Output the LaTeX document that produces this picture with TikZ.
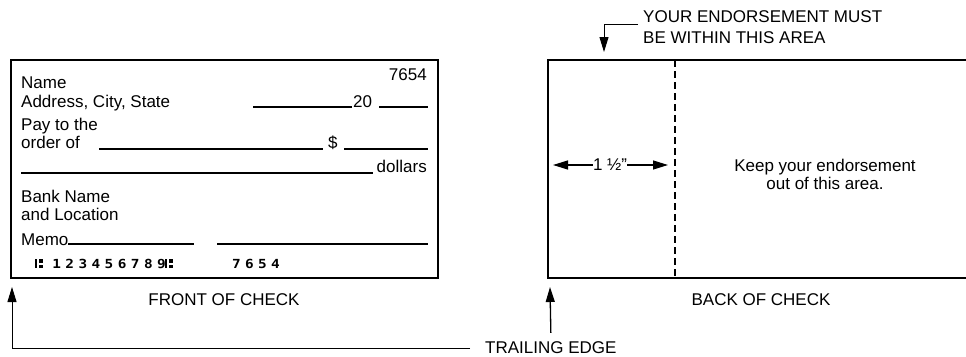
\documentclass[tikz,border=0pt]{standalone}
\usepackage{fontspec}
\setmainfont{Liberation Sans}
\newfontfamily\micrfont{DejaVu Sans Mono}
\usetikzlibrary{arrows.meta}

\begin{document}
\begin{tikzpicture}[x=1pt,y=-1pt,
txt/.style = {% all labels
    inner sep=0pt, font=\fontsize{17}{18}\selectfont,
            },
micr/.style = {inner sep=0pt, anchor=base west,
    font=\micrfont\bfseries\fontsize{12.5}{12.5}\selectfont},
frame/.style = {line width=2.2pt},
blank/.style = {line width=1.5pt},
arr/.style = {line width=1.3pt, -{Triangle[length=15pt,width=9pt]}},
                    ]
  \useasboundingbox (0,0) rectangle (966,356);

  % front of check
  \draw[frame] (11,60) rectangle (438,278);
  \node[txt,anchor=base east] (num)  at (427,80)  {7654};
  \node[txt,anchor=base west] (name) at (21,88)   {Name};
  \node[txt,anchor=base west] (addr) at (21,107)  {Address, City, State};
  \node[txt,anchor=base west] (year) at (353,107) {20};
  \node[txt,anchor=base west] (pay)  at (21,130)  {Pay to the};
  \node[txt,anchor=base west] (ord)  at (21,148)  {order of};
  \node[txt,anchor=base west] (usd)  at (328,148) {\$};
  \node[txt,anchor=base east] (dol)  at (427,172) {dollars};
  \node[txt,anchor=base west] (bank) at (21,202)  {Bank Name};
  \node[txt,anchor=base west] (loc)  at (21,220)  {and Location};
  \node[txt,anchor=base west] (memo) at (21,245)  {Memo};

  \draw[blank] (253,107) -- (352,107);
  \draw[blank] (379,107) -- (428,107);
  \draw[blank] (99,149)  -- (323,149);
  \draw[blank] (344,149) -- (428,149);
  \draw[blank] (21,173)  -- (373,173);
  \draw[blank] (68,244)  -- (194,244);
  \draw[blank] (217,244) -- (428,244);

  % micr line
  \foreach \x in {35,165} {
    \fill (\x,259) rectangle ++(2.2,9);
    \fill (\x+3.8,259) rectangle ++(4,3.5);
    \fill (\x+3.8,264.5) rectangle ++(4,3.5);
  }
  \foreach \d [count=\i] in {1,2,3,4,5,6,7,8,9}
    \node[micr] (route\i) at (39+\i*13.1,268) {\scalebox{1.15}[1]{\d}};
  \foreach \d [count=\i] in {7,6,5,4}
    \node[micr] (chk\i) at (219+\i*13,268) {\scalebox{1.15}[1]{\d}};

  \node[txt,anchor=base] (front) at (224,305) {FRONT OF CHECK};

  % back of check
  \draw[frame] (966,60) -- (548,60) -- (548,278) -- (966,278);
  \draw[line width=2pt,dash pattern=on 7pt off 4pt] (675,60) -- (675,278);

  \node[txt,anchor=base west] (must1) at (643,22) {YOUR ENDORSEMENT MUST};
  \node[txt,anchor=base west] (must2) at (643,43) {BE WITHIN THIS AREA};
  \coordinate (lead) at (638,24);
  \coordinate (zone) at (604,52);
  \draw[arr,line width=1pt] (lead) -| (zone);

  \node[txt] (dim) at (610,165) {1 ½"};
  \coordinate (dimL) at (553,165);
  \coordinate (dimR) at (668,165);
  \draw[arr] (dim.west) -- (dimL);
  \draw[arr] (dim.east) -- (dimR);

  \node[txt,align=center] (keep) at (825,174)
      {Keep your endorsement\\out of this area.};
  \node[txt,anchor=base] (back) at (761,305) {BACK OF CHECK};

  % trailing edge
  \node[txt,anchor=base west] (trail) at (485,353) {TRAILING EDGE};
  \coordinate (fronttip) at (12,287);
  \coordinate (backtip)  at (550,287);
  \draw[arr,line width=1pt] ([xshift=-15pt,yshift=-1pt]trail.west) -| (fronttip);
  \draw[arr] ([yshift=8pt]trail.north) -- (backtip);

\end{tikzpicture}
\end{document}
